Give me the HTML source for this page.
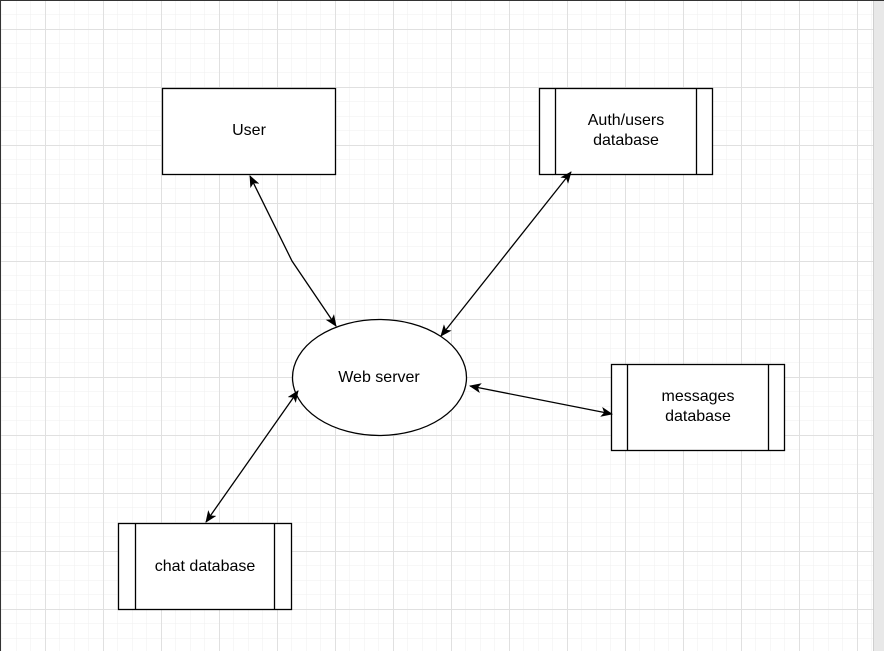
<!DOCTYPE html>
<html><head><style>
html,body{margin:0;padding:0;}
body{width:884px;height:651px;overflow:hidden;background:#fff;font-family:"Liberation Sans",sans-serif;}
</style></head><body>
<svg width="884" height="651" xmlns="http://www.w3.org/2000/svg" style="position:absolute;left:0;top:0">
<defs>
<pattern id="minor" width="14.5" height="14.5" patternUnits="userSpaceOnUse" x="1.5" y="0">
<path d="M0 0H14.5M0 0V14.5" stroke="#efefef" stroke-width="1" fill="none"/>
</pattern>
<pattern id="major" width="58" height="58" patternUnits="userSpaceOnUse" x="45" y="29">
<path d="M0 0.5H58M0.5 0V58" stroke="#e0e0e0" stroke-width="1" fill="none"/>
</pattern>
<marker id="ar" markerWidth="12" markerHeight="10" refX="11" refY="5" orient="auto-start-reverse" markerUnits="userSpaceOnUse">
<path d="M0 0L12 5L0 10L3 5Z" fill="#000"/>
</marker>
</defs>
<rect width="884" height="651" fill="#fff"/>
<rect width="873" height="651" fill="url(#minor)"/>
<rect width="873" height="651" fill="url(#major)"/>
<rect x="873" y="0" width="11" height="651" fill="#e8e8e8"/>
<line x1="873.5" y1="0" x2="873.5" y2="651" stroke="#cfcfcf"/>
<line x1="0" y1="0.5" x2="884" y2="0.5" stroke="#333"/>
<line x1="0.5" y1="0" x2="0.5" y2="651" stroke="#333"/>
<g fill="#fff" stroke="#000" stroke-width="1.3">
<rect x="162.5" y="88.5" width="173" height="86"/>
<rect x="539.5" y="88.5" width="173" height="86"/>
<line x1="555.5" y1="88.5" x2="555.5" y2="174.5"/><line x1="696.5" y1="88.5" x2="696.5" y2="174.5"/>
<rect x="611.5" y="364.5" width="173" height="86"/>
<line x1="627.5" y1="364.5" x2="627.5" y2="450.5"/><line x1="768.5" y1="364.5" x2="768.5" y2="450.5"/>
<rect x="118.5" y="523.5" width="173" height="86"/>
<line x1="135.5" y1="523.5" x2="135.5" y2="609.5"/><line x1="274.5" y1="523.5" x2="274.5" y2="609.5"/>
<ellipse cx="379.5" cy="377.5" rx="87" ry="58"/>
</g>
<g stroke="#000" stroke-width="1.3" fill="none" marker-start="url(#ar)" marker-end="url(#ar)">
<polyline points="250,176 292,261 336,326"/>
<line x1="571" y1="172" x2="441" y2="336"/>
<line x1="470" y1="386" x2="612" y2="414"/>
<line x1="298" y1="391" x2="206" y2="522"/>
</g>
<g font-family="Liberation Sans, sans-serif" font-size="16" text-anchor="middle" fill="#000">
<text x="249" y="135">User</text>
<text x="626" y="125">Auth/users</text>
<text x="626" y="145">database</text>
<text x="698" y="401">messages</text>
<text x="698" y="421">database</text>
<text x="205" y="571">chat database</text>
<text x="379" y="382">Web server</text>
</g>
</svg>
</body></html>
